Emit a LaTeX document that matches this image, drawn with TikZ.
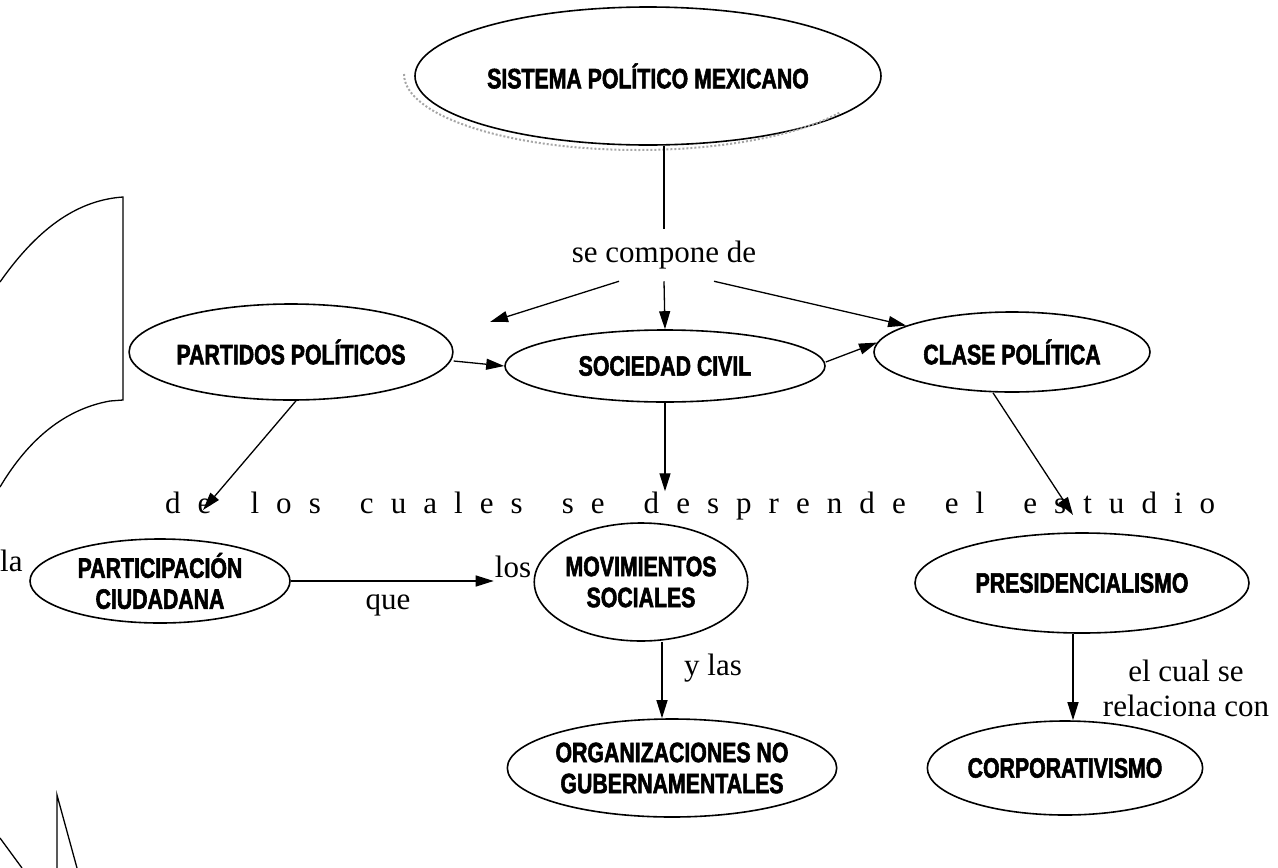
\documentclass[tikz,border=0pt]{standalone}
\usepackage{fontspec}
\setmainfont{Liberation Serif}
\newfontfamily\conceptfont[FakeStretch=0.76,FakeBold=2]{Liberation Sans}
\newfontfamily\spacedfont[LetterSpace=55]{Liberation Serif}
\usetikzlibrary{shapes.geometric,arrows.meta}

\tikzset{
  concept/.style={draw, ellipse, line width=1.6pt, inner sep=0pt, align=center,
    font=\conceptfont\bfseries\fontsize{28}{31}\selectfont},
  linkword/.style={font=\fontsize{31}{35}\selectfont, inner sep=2pt, align=center},
  arr/.style={line width=1.3pt, -{Triangle[length=18pt,width=11pt]}},
  plain/.style={line width=1.3pt}
}

\begin{document}
\begin{tikzpicture}[x=1pt,y=-1pt]
  \useasboundingbox (0,0) rectangle (1278,868);
  % Concepts
  \node[concept, minimum width=466pt, minimum height=138pt] (spm) at (648,76) {SISTEMA POLÍTICO MEXICANO};
  \node[concept, minimum width=298pt, minimum height=96pt] (pp) at (291,352) {PARTIDOS POLÍTICOS};
  \node[concept, minimum width=320pt, minimum height=72pt] (sc) at (665,366) {SOCIEDAD CIVIL};
  \node[concept, minimum width=276pt, minimum height=80pt] (cp) at (1012,352) {CLASE POLÍTICA};
  \node[concept, minimum width=260pt, minimum height=84pt] (pc) at (160,581) {PARTICIPACIÓN\\CIUDADANA};
  \node[concept, minimum width=208pt, minimum height=118pt] (ms) at (641,582) {MOVIMIENTOS\\SOCIALES};
  \node[concept, minimum width=266pt, minimum height=98pt] (ong) at (672,768) {ORGANIZACIONES NO\\GUBERNAMENTALES};
  \node[concept, minimum width=334pt, minimum height=100pt] (pres) at (1082,583) {PRESIDENCIALISMO};
  \node[concept, minimum width=270pt, minimum height=94pt] (corp) at (1065,768) {CORPORATIVISMO};
  % Shadow of the top ellipse
  \draw[gray!70, dotted, line width=2pt] (404,74) arc[start angle=180, end angle=30, x radius=234, y radius=76];
  % Link words
  \node[linkword, inner sep=12pt] (comp) at (664,255) {se compone de};
  \node[linkword, anchor=base west, inner sep=0pt, font=\spacedfont\fontsize{31}{35}\selectfont] (dlc) at (165,513)
    {\makebox[1050pt][s]{de los cuales se desprende el estudio}};
  \node[linkword, anchor=base west, inner sep=0pt] (la) at (0,571) {la};
  \node[linkword] (que) at (388,605) {que};
  \node[linkword, inner sep=1pt] (los) at (513,567) {los};
  \node[linkword, anchor=west] (ylas) at (682,668) {y las};
  \node[linkword] (ecs) at (1186,688) {el cual se\\relaciona con};
  \coordinate (pptip) at (490,322);
  \coordinate (dltip) at (203,510);
  \coordinate (estip) at (1073,515);
  % Connectors
  \draw[plain] (spm.south -| comp.north) -- (comp.north);
  \draw[arr] ([xshift=-45pt]comp.south) -- (pptip);
  \draw[arr] (comp.south) -- (sc.north);
  \draw[arr] ([xshift=50pt]comp.south) -- (cp.166);
  \draw[arr] ([yshift=-9pt]pp.east) -- (sc.west);
  \draw[arr] ([yshift=4pt]sc.east) -- (cp.176);
  \draw[arr] ([xshift=5pt]pp.south) -- (dltip);
  \draw[arr] (sc.south) -- (sc.south |- dlc.north);
  \draw[arr] ([xshift=-19pt]cp.south) -- (estip);
  \draw[arr] (pc.east) -- (pc.east -| los.west);
  \draw[arr] ([xshift=21pt]ms.south) -- ([xshift=21pt]ms.south |- ong.north);
  \draw[arr] ([xshift=-9pt]pres.south) -- ([xshift=-9pt]pres.south |- corp.north);
  % Marks at the left edge
  \draw[plain] (0,282) .. controls (40,225) and (80,200) .. (123,197) -- (123,400) -- (110,401) .. controls (60,410) and (25,445) .. (0,487);
  \draw[plain] (0,838) -- (22,868);
  \draw[plain] (57,868) -- (57,795) -- (77,868);
\end{tikzpicture}
\end{document}
